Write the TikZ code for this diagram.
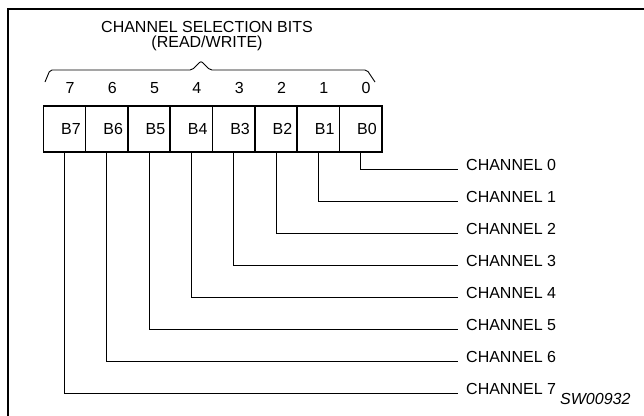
\documentclass[tikz,border=0pt]{standalone}
\usepackage{fontspec}
\setmainfont{Liberation Sans}
\begin{document}
\begin{tikzpicture}[x=1pt,y=-1pt,
  every node/.style={font=\fontsize{16}{15.5}\selectfont, inner sep=0pt},
  bitbox/.style={draw, line width=1.6pt, minimum width=42.3pt, minimum height=46pt,
    text width=32.3pt, align=right, inner xsep=5pt},
  wire/.style={line width=0.9pt},
  chlabel/.style={anchor=base west},
  bitnum/.style={anchor=base}]
\useasboundingbox (0,0) rectangle (644,415);
% frame
\draw[line width=2.2pt] (8,430) -- (8,9) -- (660,9);
% title
\node[align=center] (title) at (207,36) {CHANNEL SELECTION BITS\\(READ/WRITE)};
% brace
\draw[line width=0.9pt, rounded corners=2pt] (45,82) -- (50,70) -- (192,70) -- (201,61) -- (210,70) -- (367,70) -- (375,82);
% boxes
\foreach \i in {0,...,7} {
  \pgfmathsetmacro{\cx}{64.5+42.3*(7-\i)}
  \node[bitbox] (b\i) at (\cx,129) {B\i};
  \node[bitnum] (n\i) at (\cx+5.5,93.5) {\i};
}
% channel labels and wires
\foreach \i in {0,...,7} {
  \pgfmathsetmacro{\cy}{169+32*\i}
  \node[chlabel] (ch\i) at (466,\cy+1) {CHANNEL \i};
  \draw[wire] (b\i.south) |- ([xshift=-8pt,yshift=1pt]ch\i.base west);
}
\node[anchor=base west, font=\fontsize{16}{16}\selectfont\itshape] (sw) at (560,404) {SW00932};
\end{tikzpicture}
\end{document}
